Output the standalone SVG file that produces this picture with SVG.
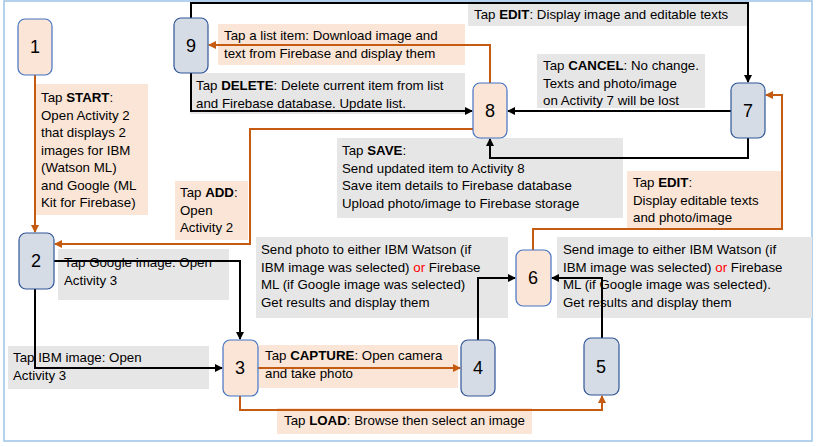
<svg xmlns="http://www.w3.org/2000/svg" width="816" height="447" viewBox="0 0 816 447">
<defs>
<marker id="ab" markerWidth="8" markerHeight="8" refX="7" refY="4" orient="auto" markerUnits="userSpaceOnUse"><path d="M0,0 L8,4 L0,8 z" fill="#000"/></marker>
<marker id="ao" markerWidth="8" markerHeight="8" refX="7" refY="4" orient="auto" markerUnits="userSpaceOnUse"><path d="M0,0 L8,4 L0,8 z" fill="#c55a11"/></marker>
</defs>
<style>
text{font-family:"Liberation Sans",Arial,sans-serif;font-size:13.3px;fill:#000}
.num{font-size:18px;text-anchor:middle}
.b{font-weight:bold}
.nb{fill:#d6dce5;stroke:#2f5597;stroke-width:1.2}
.np{fill:#fbe5d6;stroke:#4472c4;stroke-width:1.2}
.lp{fill:#fbe5d6}
.lg{fill:#e7e6e6}
.cb{fill:none;stroke:#000;stroke-width:2;marker-end:url(#ab)}
.co{fill:none;stroke:#c55a11;stroke-width:2;marker-end:url(#ao)}
</style>
<rect x="0" y="0" width="816" height="447" fill="#fff"/>
<rect x="4" y="1" width="808" height="440" fill="none" stroke="#9dc3e6" stroke-width="1.5"/>
<g id="labels">
<rect class="lp" x="36" y="84" width="112" height="131"/>
<text x="41" y="102"><tspan>Tap </tspan><tspan class="b">START</tspan><tspan>:</tspan><tspan x="41" dy="17.5">Open Activity 2</tspan><tspan x="41" dy="17.5">that displays 2</tspan><tspan x="41" dy="17.5">images for IBM</tspan><tspan x="41" dy="17.5">(Watson ML)</tspan><tspan x="41" dy="17.5">and Google (ML</tspan><tspan x="41" dy="17.5">Kit for Firebase)</tspan></text>
<rect class="lp" x="175" y="181" width="73" height="59"/>
<text x="180" y="197"><tspan>Tap </tspan><tspan class="b">ADD</tspan><tspan>:</tspan><tspan x="180" dy="17.5">Open</tspan><tspan x="180" dy="17.5">Activity 2</tspan></text>
<rect class="lp" x="218" y="24" width="247" height="41"/>
<text x="224" y="40"><tspan>Tap a list item: Download image and</tspan><tspan x="224" dy="17.5">text from Firebase and display them</tspan></text>
<rect class="lg" x="190" y="73" width="275" height="41"/>
<text x="196" y="90"><tspan>Tap </tspan><tspan class="b">DELETE</tspan><tspan>: Delete current item from list</tspan><tspan x="196" dy="17.5">and Firebase database. Update list.</tspan></text>
<rect class="lg" x="468" y="3" width="280" height="23"/>
<text x="474" y="19"><tspan>Tap </tspan><tspan class="b">EDIT</tspan><tspan>: Display image and editable texts</tspan></text>
<rect class="lg" x="537" y="54" width="168" height="54"/>
<text x="543" y="70"><tspan>Tap </tspan><tspan class="b">CANCEL</tspan><tspan>: No change.</tspan><tspan x="543" dy="17.5">Texts and photo/image</tspan><tspan x="543" dy="17.5">on Activity 7 will be lost</tspan></text>
<rect class="lg" x="337" y="138" width="286" height="80"/>
<text x="342" y="155"><tspan>Tap </tspan><tspan class="b">SAVE</tspan><tspan>:</tspan><tspan x="342" dy="17.5">Send updated item to Activity 8</tspan><tspan x="342" dy="17.5">Save item details to Firebase database</tspan><tspan x="342" dy="17.5">Upload photo/image to Firebase storage</tspan></text>
<rect class="lp" x="627" y="171" width="156" height="59"/>
<text x="633" y="187"><tspan>Tap </tspan><tspan class="b">EDIT</tspan><tspan>:</tspan><tspan x="633" dy="17.5">Display editable texts</tspan><tspan x="633" dy="17.5">and photo/image</tspan></text>
<rect class="lg" x="58" y="249" width="171" height="51"/>
<text x="64" y="267"><tspan>Tap Google image: Open</tspan><tspan x="64" dy="17.5">Activity 3</tspan></text>
<rect class="lg" x="256" y="237" width="252" height="81"/>
<text x="261" y="254"><tspan>Send photo to either IBM Watson (if</tspan><tspan x="261" dy="17.5">IBM image was selected) </tspan><tspan style="fill:#f00">or</tspan><tspan> Firebase</tspan><tspan x="261" dy="17.5">ML (if Google image was selected)</tspan><tspan x="261" dy="17.5">Get results and display them</tspan></text>
<rect class="lg" x="557" y="237" width="255" height="81"/>
<text x="563" y="254"><tspan>Send image to either IBM Watson (if</tspan><tspan x="563" dy="17.5">IBM image was selected) </tspan><tspan style="fill:#f00">or</tspan><tspan> Firebase</tspan><tspan x="563" dy="17.5">ML (if Google image was selected).</tspan><tspan x="563" dy="17.5">Get results and display them</tspan></text>
<rect class="lg" x="8" y="346" width="201" height="43"/>
<text x="13" y="362"><tspan>Tap IBM image: Open</tspan><tspan x="13" dy="17.5">Activity 3</tspan></text>
<rect class="lp" x="259" y="345" width="199" height="43"/>
<text x="265" y="360"><tspan>Tap </tspan><tspan class="b">CAPTURE</tspan><tspan>: Open camera</tspan><tspan x="265" dy="18">and take photo</tspan></text>
<rect class="lp" x="277" y="408" width="255" height="26"/>
<text x="284" y="425"><tspan>Tap </tspan><tspan class="b">LOAD</tspan><tspan>: Browse then select an image</tspan></text>
</g>
<g id="connectors">
<path class="co" d="M35,75 V232"/>
<path class="co" d="M473,129 H250 V244 H55"/>
<path class="cb" d="M191,18 V3 H748 V82"/>
<path class="co" d="M490,83 V45 H209"/>
<path class="cb" d="M191,73 V111 H472"/>
<path class="cb" d="M731,111 H508"/>
<path class="cb" d="M748,138 V158 H490 V139"/>
<path class="co" d="M533,250 V229 H782 V95 H766"/>
<path class="cb" d="M54,261 H240 V339"/>
<path class="cb" d="M35,289 V368 H222"/>
<path class="co" d="M258,368 H460"/>
<path class="co" d="M240,396 V410 H602 V396"/>
<path class="cb" d="M478,340 V278 H515"/>
<path class="cb" d="M602,338 V278 H552"/>
</g>
<g id="n1"><rect class="np" x="18" y="19" width="34" height="56" rx="7"/><text class="num" x="35" y="53">1</text></g>
<g id="n9"><rect class="nb" x="174" y="18" width="34" height="55" rx="7"/><text class="num" x="191" y="52">9</text></g>
<g id="n8"><rect class="np" x="473" y="83" width="34" height="55" rx="7"/><text class="num" x="490" y="117">8</text></g>
<g id="n7"><rect class="nb" x="731" y="83" width="34" height="55" rx="7"/><text class="num" x="748" y="117">7</text></g>
<g id="n2"><rect class="nb" x="19" y="233" width="35" height="56" rx="7"/><text class="num" x="36" y="267">2</text></g>
<g id="n3"><rect class="np" x="223" y="340" width="35" height="56" rx="7"/><text class="num" x="240" y="374">3</text></g>
<g id="n4"><rect class="nb" x="461" y="340" width="34" height="56" rx="7"/><text class="num" x="478" y="374">4</text></g>
<g id="n5"><rect class="nb" x="584" y="338" width="35" height="57" rx="7"/><text class="num" x="601" y="373">5</text></g>
<g id="n6"><rect class="np" x="516" y="250" width="35" height="56" rx="7"/><text class="num" x="533" y="284">6</text></g>
</svg>
